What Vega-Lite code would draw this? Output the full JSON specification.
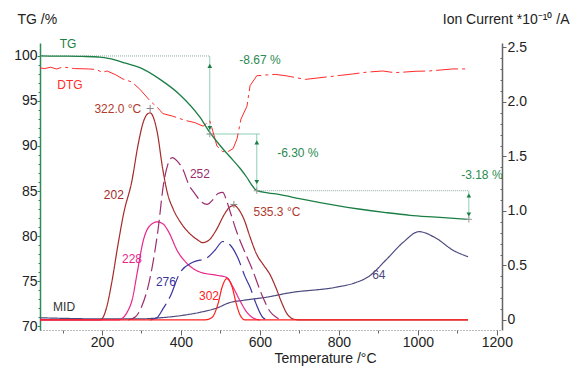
{
  "$schema": "https://vega.github.io/schema/vega-lite/v6.json",
  "width": 462,
  "height": 287,
  "autosize": {"type": "none"},
  "padding": {"left": 40, "top": 43, "right": 74, "bottom": 39},
  "config": {
    "font": "Liberation Sans",
    "view": {"stroke": null},
    "axis": {"grid": false, "labelFontSize": 14, "titleFontSize": 14, "titleFontWeight": "normal", "labelColor": "#222", "titleColor": "#222"}
  },
  "datasets": {
    "tg": [
      {"T": 43, "v": 100}, {"T": 100, "v": 99.98}, {"T": 150, "v": 99.95}, {"T": 195, "v": 99.88},
      {"T": 220, "v": 99.7}, {"T": 260, "v": 99.2}, {"T": 296, "v": 98.7}, {"T": 347, "v": 97.4},
      {"T": 397, "v": 95.7}, {"T": 448, "v": 93.2}, {"T": 473, "v": 91.5}, {"T": 500, "v": 90.0},
      {"T": 524, "v": 88.8}, {"T": 550, "v": 87.5}, {"T": 567, "v": 86.5}, {"T": 582, "v": 85.5},
      {"T": 592, "v": 85.03}, {"T": 620, "v": 84.8}, {"T": 651, "v": 84.6}, {"T": 700, "v": 84.15},
      {"T": 792, "v": 83.4}, {"T": 850, "v": 83.0}, {"T": 919, "v": 82.6}, {"T": 980, "v": 82.3},
      {"T": 1046, "v": 82.1}, {"T": 1127, "v": 81.85}
    ],
    "dtg": [
      {"T": 43, "v": 98.67}, {"T": 55, "v": 98.6}, {"T": 70, "v": 98.75}, {"T": 85, "v": 98.55}, {"T": 101, "v": 98.78},
      {"T": 130, "v": 98.6}, {"T": 165, "v": 98.56}, {"T": 185, "v": 98.5}, {"T": 200, "v": 98.2}, {"T": 213, "v": 98.33},
      {"T": 235, "v": 97.9}, {"T": 253, "v": 97.44}, {"T": 276, "v": 97.1}, {"T": 296, "v": 96.3},
      {"T": 322, "v": 95.0}, {"T": 340, "v": 94.3}, {"T": 354, "v": 93.6}, {"T": 380, "v": 93.3},
      {"T": 400, "v": 93.0}, {"T": 415, "v": 92.8}, {"T": 435, "v": 92.6}, {"T": 456, "v": 92.2},
      {"T": 473, "v": 92.8}, {"T": 481, "v": 91.6}, {"T": 491, "v": 90.0}, {"T": 505, "v": 89.4},
      {"T": 516, "v": 89.3}, {"T": 532, "v": 89.7}, {"T": 542, "v": 90.8}, {"T": 552, "v": 93.0},
      {"T": 567, "v": 94.4}, {"T": 575, "v": 96.7}, {"T": 592, "v": 97.8}, {"T": 618, "v": 97.9},
      {"T": 640, "v": 97.95}, {"T": 666, "v": 97.8}, {"T": 690, "v": 97.6}, {"T": 716, "v": 97.4},
      {"T": 745, "v": 97.55}, {"T": 775, "v": 97.7}, {"T": 805, "v": 97.85}, {"T": 835, "v": 98.0},
      {"T": 870, "v": 98.2}, {"T": 911, "v": 98.33}, {"T": 940, "v": 98.15}, {"T": 962, "v": 98.2},
      {"T": 995, "v": 98.3}, {"T": 1028, "v": 98.33}, {"T": 1060, "v": 98.45}, {"T": 1089, "v": 98.56},
      {"T": 1122, "v": 98.56}
    ],
    "hdot": [
      {"T": 43, "T2": 473, "v": 100},
      {"T": 592, "T2": 1129, "v": 85.03}
    ],
    "hsolid": [
      {"T": 465, "T2": 600, "v": 91.33}
    ],
    "vlines": [
      {"T": 473, "v": 100, "v2": 91.33},
      {"T": 592, "v": 91.33, "v2": 85.03},
      {"T": 1129, "v": 85.03, "v2": 81.85}
    ],
    "heads": [
      {"T": 473, "v": 98.9, "dir": "up"}, {"T": 473, "v": 92.0, "dir": "down"},
      {"T": 592, "v": 90.4, "dir": "up"}, {"T": 592, "v": 86.0, "dir": "down"},
      {"T": 1129, "v": 84.5, "dir": "up"}, {"T": 1129, "v": 82.4, "dir": "down"}
    ],
    "tgcross": [
      {"T": 473, "v": 91.33}, {"T": 592, "v": 85.03}, {"T": 1129, "v": 81.85}
    ],
    "tgtext": [
      {"T": 114, "v": 101.33, "label": "TG", "s": "TG"},
      {"T": 119, "v": 96.78, "label": "DTG", "s": "DTG"},
      {"T": 600, "v": 99.56, "label": "-8.67 %", "s": "pct"},
      {"T": 696, "v": 89.22, "label": "-6.30 %", "s": "pct"},
      {"T": 1162, "v": 86.78, "label": "-3.18 %", "s": "pct"}
    ],
    "ion": [
      {"s": "64", "T": 43, "v": 0.02}, {"s": "64", "T": 100, "v": 0.015}, {"s": "64", "T": 195, "v": 0.01},
      {"s": "64", "T": 296, "v": 0.01}, {"s": "64", "T": 347, "v": 0.02}, {"s": "64", "T": 400, "v": 0.04},
      {"s": "64", "T": 448, "v": 0.07}, {"s": "64", "T": 491, "v": 0.11}, {"s": "64", "T": 524, "v": 0.16},
      {"s": "64", "T": 557, "v": 0.18}, {"s": "64", "T": 618, "v": 0.21}, {"s": "64", "T": 676, "v": 0.25},
      {"s": "64", "T": 792, "v": 0.30}, {"s": "64", "T": 840, "v": 0.34}, {"s": "64", "T": 876, "v": 0.40},
      {"s": "64", "T": 919, "v": 0.55}, {"s": "64", "T": 962, "v": 0.71}, {"s": "64", "T": 1003, "v": 0.81},
      {"s": "64", "T": 1046, "v": 0.75}, {"s": "64", "T": 1089, "v": 0.64}, {"s": "64", "T": 1127, "v": 0.58},

      {"s": "202", "T": 43, "v": 0}, {"s": "202", "T": 195, "v": 0}, {"s": "202", "T": 202, "v": 0.02},
      {"s": "202", "T": 212, "v": 0.12}, {"s": "202", "T": 225, "v": 0.35}, {"s": "202", "T": 240, "v": 0.68},
      {"s": "202", "T": 255, "v": 0.98}, {"s": "202", "T": 276, "v": 1.28}, {"s": "202", "T": 291, "v": 1.6},
      {"s": "202", "T": 305, "v": 1.82}, {"s": "202", "T": 315, "v": 1.89}, {"s": "202", "T": 322, "v": 1.90},
      {"s": "202", "T": 330, "v": 1.86}, {"s": "202", "T": 340, "v": 1.72}, {"s": "202", "T": 354, "v": 1.38},
      {"s": "202", "T": 366, "v": 1.16}, {"s": "202", "T": 380, "v": 1.02}, {"s": "202", "T": 400, "v": 0.89},
      {"s": "202", "T": 420, "v": 0.80}, {"s": "202", "T": 440, "v": 0.74}, {"s": "202", "T": 455, "v": 0.71},
      {"s": "202", "T": 470, "v": 0.73}, {"s": "202", "T": 490, "v": 0.83}, {"s": "202", "T": 510, "v": 0.97},
      {"s": "202", "T": 525, "v": 1.04}, {"s": "202", "T": 535, "v": 1.05}, {"s": "202", "T": 545, "v": 1.02},
      {"s": "202", "T": 560, "v": 0.92}, {"s": "202", "T": 575, "v": 0.76}, {"s": "202", "T": 592, "v": 0.6},
      {"s": "202", "T": 610, "v": 0.5}, {"s": "202", "T": 625, "v": 0.42}, {"s": "202", "T": 640, "v": 0.3},
      {"s": "202", "T": 655, "v": 0.16}, {"s": "202", "T": 668, "v": 0.06}, {"s": "202", "T": 684, "v": 0.01},
      {"s": "202", "T": 700, "v": 0}, {"s": "202", "T": 1127, "v": 0},

      {"s": "228", "T": 43, "v": 0}, {"s": "228", "T": 241, "v": 0}, {"s": "228", "T": 253, "v": 0.02},
      {"s": "228", "T": 265, "v": 0.08}, {"s": "228", "T": 276, "v": 0.18}, {"s": "228", "T": 290, "v": 0.45},
      {"s": "228", "T": 304, "v": 0.72}, {"s": "228", "T": 320, "v": 0.86}, {"s": "228", "T": 340, "v": 0.90},
      {"s": "228", "T": 355, "v": 0.88}, {"s": "228", "T": 370, "v": 0.80}, {"s": "228", "T": 390, "v": 0.64},
      {"s": "228", "T": 415, "v": 0.52}, {"s": "228", "T": 448, "v": 0.44}, {"s": "228", "T": 491, "v": 0.41},
      {"s": "228", "T": 516, "v": 0.39}, {"s": "228", "T": 532, "v": 0.30}, {"s": "228", "T": 549, "v": 0.18},
      {"s": "228", "T": 567, "v": 0.07}, {"s": "228", "T": 582, "v": 0.02}, {"s": "228", "T": 600, "v": 0},

      {"s": "252", "T": 266, "v": 0}, {"s": "252", "T": 285, "v": 0.03}, {"s": "252", "T": 300, "v": 0.12},
      {"s": "252", "T": 322, "v": 0.39}, {"s": "252", "T": 342, "v": 0.83}, {"s": "252", "T": 356, "v": 1.25},
      {"s": "252", "T": 367, "v": 1.43}, {"s": "252", "T": 378, "v": 1.49}, {"s": "252", "T": 390, "v": 1.46},
      {"s": "252", "T": 405, "v": 1.38}, {"s": "252", "T": 420, "v": 1.24}, {"s": "252", "T": 435, "v": 1.16},
      {"s": "252", "T": 450, "v": 1.09}, {"s": "252", "T": 466, "v": 1.06}, {"s": "252", "T": 480, "v": 1.1},
      {"s": "252", "T": 494, "v": 1.16}, {"s": "252", "T": 506, "v": 1.17}, {"s": "252", "T": 515, "v": 1.1},
      {"s": "252", "T": 524, "v": 1.0}, {"s": "252", "T": 542, "v": 0.80}, {"s": "252", "T": 562, "v": 0.62},
      {"s": "252", "T": 580, "v": 0.47}, {"s": "252", "T": 605, "v": 0.23}, {"s": "252", "T": 625, "v": 0.08},
      {"s": "252", "T": 643, "v": 0.02}, {"s": "252", "T": 658, "v": 0},

      {"s": "276", "T": 322, "v": 0}, {"s": "276", "T": 339, "v": 0.02}, {"s": "276", "T": 354, "v": 0.10},
      {"s": "276", "T": 372, "v": 0.21}, {"s": "276", "T": 397, "v": 0.43}, {"s": "276", "T": 430, "v": 0.53},
      {"s": "276", "T": 466, "v": 0.57}, {"s": "276", "T": 486, "v": 0.64}, {"s": "276", "T": 506, "v": 0.72},
      {"s": "276", "T": 524, "v": 0.69}, {"s": "276", "T": 544, "v": 0.57}, {"s": "276", "T": 562, "v": 0.40},
      {"s": "276", "T": 575, "v": 0.30}, {"s": "276", "T": 590, "v": 0.15}, {"s": "276", "T": 608, "v": 0.02},
      {"s": "276", "T": 620, "v": 0},

      {"s": "302", "T": 43, "v": 0}, {"s": "302", "T": 461, "v": 0}, {"s": "302", "T": 478, "v": 0.02},
      {"s": "302", "T": 494, "v": 0.15}, {"s": "302", "T": 504, "v": 0.30}, {"s": "302", "T": 516, "v": 0.38},
      {"s": "302", "T": 529, "v": 0.31}, {"s": "302", "T": 540, "v": 0.15}, {"s": "302", "T": 549, "v": 0.05},
      {"s": "302", "T": 562, "v": 0}, {"s": "302", "T": 1127, "v": 0}
    ],
    "iontext": [
      {"T": 230, "v": 1.15, "label": "202", "s": "202"},
      {"T": 276, "v": 0.56, "label": "228", "s": "228"},
      {"T": 448, "v": 1.34, "label": "252", "s": "252"},
      {"T": 362, "v": 0.35, "label": "276", "s": "276"},
      {"T": 471, "v": 0.22, "label": "302", "s": "302"},
      {"T": 901, "v": 0.41, "label": "64", "s": "64"},
      {"T": 104, "v": 0.12, "label": "MID", "s": "MID"},
      {"T": 240, "v": 1.94, "label": "322.0 °C", "s": "peak"},
      {"T": 643, "v": 0.99, "label": "535.3 °C", "s": "peak"}
    ],
    "ioncross": [
      {"T": 322, "v": 1.94}, {"T": 534, "v": 1.06}
    ]
  },
  "encoding": {
    "x": {
      "field": "T", "type": "quantitative",
      "scale": {"domain": [43, 1213], "nice": false, "zero": false},
      "axis": {
        "values": [100, 200, 300, 400, 500, 600, 700, 800, 900, 1000, 1100, 1200],
        "format": "d",
        "labelExpr": "datum.value % 200 === 0 ? datum.label : ''",
        "tickSize": {"condition": {"test": "datum.value % 200 === 0", "value": 5}, "value": 3},
        "labelPadding": 0,
        "domainColor": "#777", "domainDash": [1, 2], "tickColor": "#666",
        "title": "Temperature /°C", "titleX": 285, "titleY": 28, "titleBaseline": "middle"
      }
    }
  },
  "layer": [
    {
      "encoding": {
        "y": {
          "field": "v", "type": "quantitative",
          "scale": {"domain": [69.56, 101.44], "nice": false, "zero": false},
          "axis": {
            "orient": "left",
            "values": [70, 71, 72, 73, 74, 75, 76, 77, 78, 79, 80, 81, 82, 83, 84, 85, 86, 87, 88, 89, 90, 91, 92, 93, 94, 95, 96, 97, 98, 99, 100],
            "labelExpr": "datum.value % 5 === 0 ? datum.label : ''",
            "tickSize": {"condition": {"test": "datum.value % 5 === 0", "value": 3}, "value": 2},
            "labelPadding": 0,
            "domainColor": "#2e8b57", "domainWidth": 1.5, "tickColor": "#2e8b57",
            "title": "TG /%", "titleAngle": 0, "titleAlign": "left", "titleBaseline": "middle",
            "titleX": -23, "titleY": -24
          }
        }
      },
      "layer": [
        {
          "data": {"name": "hdot"},
          "mark": {"type": "rule", "color": "#8fa89a", "strokeDash": [1, 1], "strokeWidth": 1},
          "encoding": {"x2": {"field": "T2"}}
        },
        {
          "data": {"name": "hsolid"},
          "mark": {"type": "rule", "color": "#8fcfb5", "strokeWidth": 1},
          "encoding": {"x2": {"field": "T2"}}
        },
        {
          "data": {"name": "vlines"},
          "mark": {"type": "rule", "color": "#8fcfb5", "strokeWidth": 1},
          "encoding": {"y2": {"field": "v2"}}
        },
        {
          "data": {"name": "dtg"},
          "mark": {"type": "line", "color": "#ff2a2a", "strokeWidth": 1, "strokeDash": [22, 4, 3, 4]},
          "encoding": {}
        },
        {
          "data": {"name": "tg"},
          "mark": {"type": "line", "color": "#1b7f45", "strokeWidth": 1.3, "interpolate": "monotone"},
          "encoding": {}
        },
        {
          "data": {"name": "heads"},
          "mark": {"type": "point", "filled": true, "color": "#1b7f45", "size": 22, "opacity": 1},
          "encoding": {
            "shape": {"field": "dir", "type": "nominal", "scale": {"domain": ["up", "down"], "range": ["triangle-up", "triangle-down"]}, "legend": null}
          }
        },
        {
          "data": {"name": "tgcross"},
          "mark": {"type": "point", "shape": "M-1,0H1M0,-1V1", "filled": false, "color": "#999", "size": 40, "strokeWidth": 1, "opacity": 1},
          "encoding": {}
        },
        {
          "data": {"name": "tgtext"},
          "mark": {"type": "text", "fontSize": 12, "align": "center", "baseline": "middle"},
          "encoding": {
            "text": {"field": "label"},
            "color": {"field": "s", "type": "nominal", "legend": null,
              "scale": {"domain": ["TG", "DTG", "202", "228", "252", "276", "302", "64", "MID", "pct", "peak"],
                        "range": ["#1b7f45", "#ff2a2a", "#a52a2a", "#e8258a", "#9b2d6f", "#3b35a0", "#ff2020", "#4b4a7e", "#333333", "#2a8a50", "#b03a2e"]}}
          }
        }
      ]
    },
    {
      "encoding": {
        "y": {
          "field": "v", "type": "quantitative",
          "scale": {"domain": [-0.092, 2.541], "nice": false, "zero": false},
          "axis": {
            "orient": "right",
            "values": [0, 0.1, 0.2, 0.3, 0.4, 0.5, 0.6, 0.7, 0.8, 0.9, 1, 1.1, 1.2, 1.3, 1.4, 1.5, 1.6, 1.7, 1.8, 1.9, 2, 2.1, 2.2, 2.3, 2.4, 2.5],
            "labelExpr": "round(datum.value*10) % 5 === 0 ? (datum.value === 0 ? '0' : format(datum.value, '.1f')) : ''",
            "tickSize": {"condition": {"test": "round(datum.value*10) % 5 === 0", "value": 4}, "value": -2},
            "labelPadding": 1,
            "domainColor": "#666", "domainWidth": 1.5, "tickColor": "#666",
            "title": "Ion Current *10⁻¹⁰ /A", "titleAngle": 0, "titleAlign": "right", "titleBaseline": "middle",
            "titleX": 67, "titleY": -24
          }
        }
      },
      "layer": [
        {
          "data": {"name": "ion"},
          "transform": [{"filter": "datum.s !== '302'"}],
          "mark": {"type": "line", "strokeWidth": 1.2, "interpolate": "monotone"},
          "encoding": {
            "detail": {"field": "s"},
            "color": {"field": "s", "type": "nominal", "legend": null,
              "scale": {"domain": ["TG", "DTG", "202", "228", "252", "276", "302", "64", "MID", "pct", "peak"],
                        "range": ["#1b7f45", "#ff2a2a", "#a52a2a", "#e8258a", "#9b2d6f", "#3b35a0", "#ff2020", "#4b4a7e", "#333333", "#2a8a50", "#b03a2e"]}},
            "strokeDash": {"field": "s", "type": "nominal", "legend": null,
              "scale": {"domain": ["202", "228", "252", "276", "64"], "range": [[1, 0], [1, 0], [14, 5], [24, 6], [1, 0]]}}
          }
        },
        {
          "data": {"name": "ion"},
          "transform": [{"filter": "datum.s === '302'"}],
          "mark": {"type": "line", "strokeWidth": 1.2, "interpolate": "monotone", "color": "#ff2020"},
          "encoding": {}
        },
        {
          "data": {"name": "ioncross"},
          "mark": {"type": "point", "shape": "M-1,0H1M0,-1V1", "filled": false, "color": "#888", "size": 50, "strokeWidth": 1, "opacity": 1},
          "encoding": {}
        },
        {
          "data": {"name": "iontext"},
          "mark": {"type": "text", "fontSize": 12, "align": "center", "baseline": "middle"},
          "encoding": {
            "text": {"field": "label"},
            "color": {"field": "s", "type": "nominal", "legend": null}
          }
        }
      ]
    }
  ],
  "resolve": {"scale": {"y": "independent"}, "axis": {"y": "independent"}}
}
